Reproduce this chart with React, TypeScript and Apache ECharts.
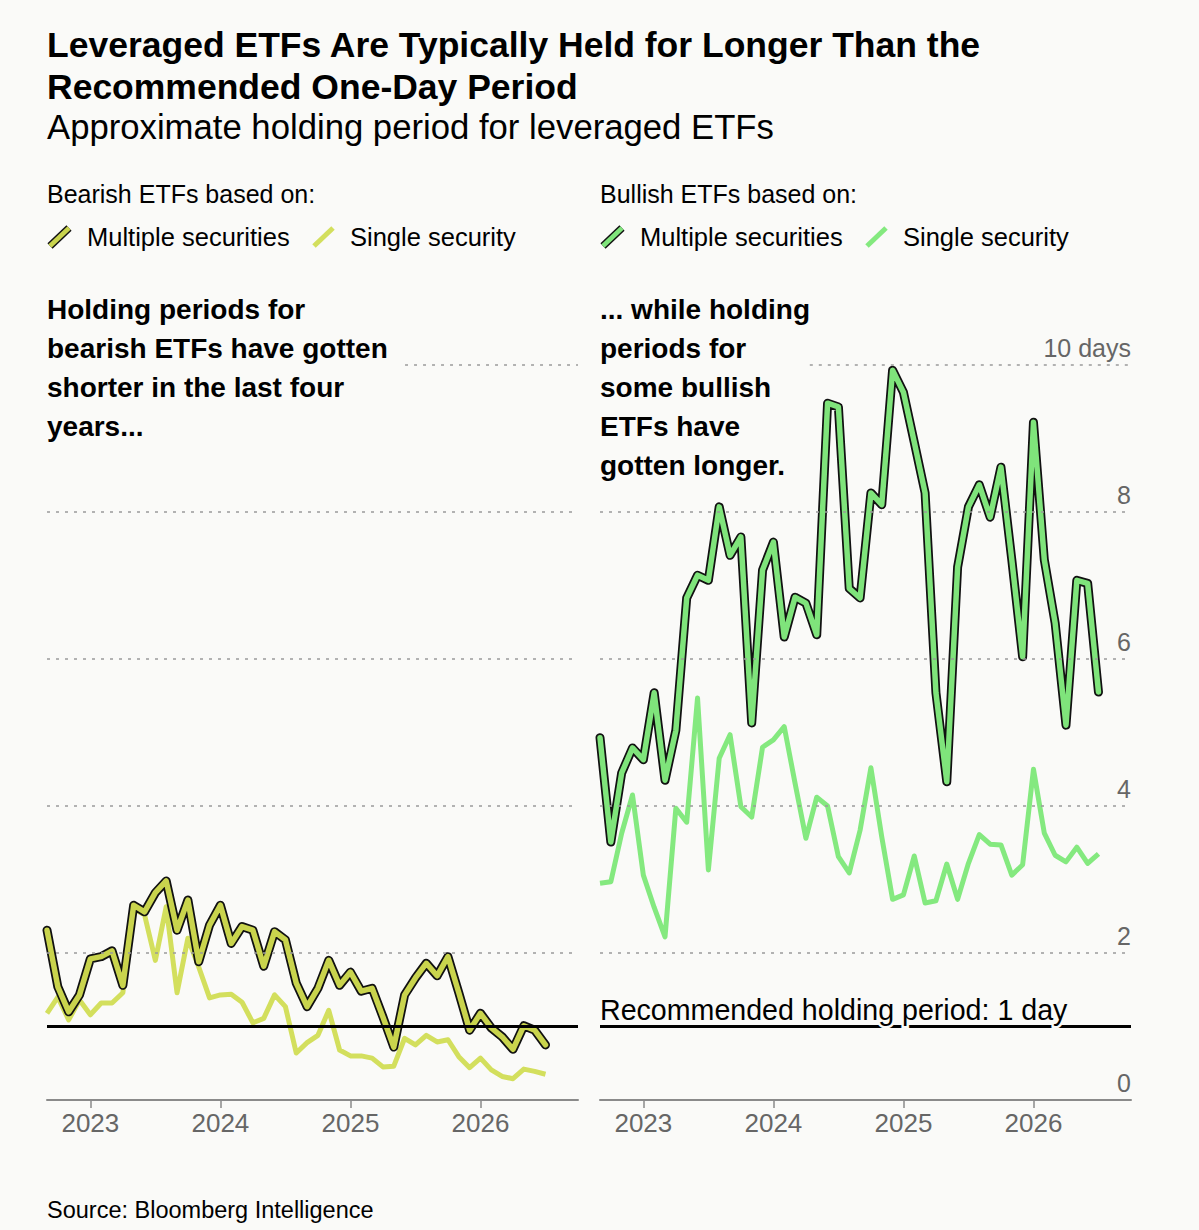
import React, { useEffect, useRef } from "react";
import * as echarts from "echarts";

const FONT = "'Liberation Sans', Arial, sans-serif";
const BG = "#fafaf8";

// Monthly observations, Sep 2022 .. Jul 2026
const START_YEAR = 2022;
const START_MONTH = 9;
const AXIS_END = 2026.75;

const bearMulti = [
  2.31, 1.54, 1.2, 1.43, 1.92, 1.95, 2.03, 1.56, 2.65, 2.56,
  2.82, 2.98, 2.31, 2.72, 1.88, 2.38, 2.65, 2.13, 2.36, 2.31,
  1.82, 2.29, 2.18, 1.59, 1.27, 1.52, 1.9, 1.56, 1.74, 1.48,
  1.52, 1.13, 0.72, 1.43, 1.66, 1.86, 1.69, 1.95, 1.46, 0.95,
  1.18, 0.98, 0.86, 0.69, 1.01, 0.95, 0.75,
];
const bearSingle = [
  1.18, 1.4, 1.09, 1.36, 1.16, 1.32, 1.32, 1.46, 2.6, 2.52,
  1.9, 2.63, 1.46, 2.2, 1.81, 1.39, 1.43, 1.44, 1.33, 1.05,
  1.11, 1.43, 1.27, 0.64, 0.78, 0.88, 1.22, 0.68, 0.6, 0.6,
  0.57, 0.45, 0.46, 0.84, 0.75, 0.88, 0.79, 0.82, 0.59, 0.44,
  0.57, 0.41, 0.32, 0.29, 0.42, 0.39, 0.35,
];
const bullMulti = [
  4.93, 3.51, 4.45, 4.79, 4.63, 5.54, 4.35, 5.03, 6.83, 7.14,
  7.07, 8.07, 7.41, 7.66, 5.13, 7.21, 7.59, 6.3, 6.84, 6.76,
  6.33, 9.48, 9.43, 6.96, 6.83, 8.26, 8.1, 9.93, 9.63, 8.95,
  8.26, 5.54, 4.33, 7.25, 8.07, 8.37, 7.93, 8.61, 7.35, 6.03,
  9.22, 7.35, 6.49, 5.1, 7.07, 7.03, 5.55,
];
const bullSingle = [
  2.95, 2.97, 3.63, 4.15, 3.06, 2.62, 2.22, 3.97, 3.78, 5.47,
  3.13, 4.65, 4.97, 3.99, 3.85, 4.8, 4.9, 5.08, 4.31, 3.56,
  4.12, 4.0, 3.31, 3.09, 3.67, 4.52, 3.58, 2.73, 2.79, 3.32,
  2.68, 2.71, 3.21, 2.73, 3.22, 3.61, 3.48, 3.47, 3.06, 3.2,
  4.5, 3.63, 3.33, 3.24, 3.44, 3.22, 3.35,
];

const yearTicks = [2023, 2024, 2025, 2026];
const gridValues = [2, 4, 6, 8];
const TOP_GRID = 10;
const RECOMMENDED = 1;

const C_BEAR_MULTI = "#c9d44d";
const C_BEAR_SINGLE = "#d3df5d";
const C_BULL_MULTI = "#7fe47b";
const C_BULL_SINGLE = "#84e97f";

const AXIS_START = START_YEAR + (START_MONTH - 1) / 12;
const toPoints = (vals: number[]) =>
  vals.map((v, i) => [START_YEAR + (START_MONTH - 1 + i) / 12, v]);

function markLines(topStart: number) {
  const dashed = { color: "#9a9a9a", width: 1.6, type: [3, 6] as any };
  return {
    silent: true,
    symbol: ["none", "none"],
    label: { show: false },
    animation: false,
    data: [
      ...gridValues.map((g) => ({ yAxis: g, lineStyle: dashed })),
      [
        { coord: [topStart, TOP_GRID], lineStyle: dashed },
        { coord: [AXIS_END, TOP_GRID] },
      ],
      { yAxis: RECOMMENDED, lineStyle: { color: "#000", width: 3, type: "solid" } },
    ],
  };
}

function panelSeries(gi: number, multi: number[], single: number[], cm: string, cs: string, topStart: number) {
  return [
    {
      type: "line",
      xAxisIndex: gi,
      yAxisIndex: gi,
      data: toPoints(single),
      showSymbol: false,
      lineStyle: { color: cs, width: 5, join: "round" },
      markLine: markLines(topStart),
      z: 2,
    },
    {
      type: "line",
      xAxisIndex: gi,
      yAxisIndex: gi,
      data: toPoints(multi),
      showSymbol: false,
      lineStyle: { color: "#111", width: 9, join: "round", cap: "round" },
      z: 3,
    },
    {
      type: "line",
      xAxisIndex: gi,
      yAxisIndex: gi,
      data: toPoints(multi),
      showSymbol: false,
      lineStyle: { color: cm, width: 5.5, join: "round", cap: "round" },
      z: 4,
    },
  ];
}

function xAxis(gi: number) {
  return {
    type: "value",
    gridIndex: gi,
    min: AXIS_START,
    max: AXIS_END,
    axisLine: { show: true, lineStyle: { color: "#8a8a8a", width: 2 } },
    axisTick: { show: true, customValues: yearTicks, length: 8, lineStyle: { color: "#8a8a8a", width: 1.5 } },
    axisLabel: {
      customValues: yearTicks,
      formatter: (v: number) => String(Math.round(v)),
      color: "#666",
      fontSize: 26,
      fontFamily: FONT,
      margin: 10,
    },
    splitLine: { show: false },
  };
}

function txt(text: string, x: number, y: number, size: number, weight = "normal", fill = "#000", extra: any = {}) {
  return {
    type: "text",
    x,
    y,
    silent: true,
    style: {
      text,
      fill,
      fontSize: size,
      fontWeight: weight,
      fontFamily: FONT,
      verticalAlign: "middle",
      ...extra,
    },
  };
}

function slash(x: number, y: number, color: string, outlined: boolean) {
  const shape = { x1: x, y1: y + 18, x2: x + 19, y2: y };
  const els: any[] = [];
  if (outlined) {
    els.push({ type: "line", shape, style: { stroke: "#111", lineWidth: 7.5 }, silent: true });
  }
  els.push({ type: "line", shape, style: { stroke: color, lineWidth: outlined ? 4.5 : 5 }, silent: true });
  return els;
}

const halo = { stroke: BG, lineWidth: 5 };

function buildOption() {
  const leftNote = ["Holding periods for", "bearish ETFs have gotten", "shorter in the last four", "years..."];
  const rightNote = ["... while holding", "periods for", "some bullish", "ETFs have", "gotten longer."];
  const graphic: any[] = [
    txt("Leveraged ETFs Are Typically Held for Longer Than the", 47, 45, 35.5, "bold"),
    txt("Recommended One-Day Period", 47, 87, 35.5, "bold"),
    txt("Approximate holding period for leveraged ETFs", 47, 127, 34.7),
    txt("Bearish ETFs based on:", 47, 194, 25),
    txt("Bullish ETFs based on:", 600, 194, 25),
    ...slash(50, 228, C_BEAR_MULTI, true),
    txt("Multiple securities", 87, 237, 25.5),
    ...slash(314, 228, C_BEAR_SINGLE, false),
    txt("Single security", 350, 237, 25.5),
    ...slash(603, 228, C_BULL_MULTI, true),
    txt("Multiple securities", 640, 237, 25.5),
    ...slash(867, 228, C_BULL_SINGLE, false),
    txt("Single security", 903, 237, 25.5),
    ...leftNote.map((t, i) => txt(t, 47, 309 + i * 39, 28, "bold", "#000", halo)),
    ...rightNote.map((t, i) => txt(t, 600, 309 + i * 39, 28, "bold", "#000", halo)),
    txt("Recommended holding period: 1 day", 600, 1010, 28.6, "normal", "#000", halo),
    txt("Source: Bloomberg Intelligence", 47, 1210, 23.5),
  ];
  graphic.forEach((g) => (g.z = 100));

  return {
    animation: false,
    backgroundColor: BG,
    grid: [
      { left: 47, top: 365, width: 531, height: 735 },
      { left: 600, top: 365, width: 531, height: 735 },
    ],
    xAxis: [xAxis(0), xAxis(1)],
    yAxis: [
      {
        type: "value",
        gridIndex: 0,
        min: 0,
        max: 10,
        interval: 2,
        axisLabel: { show: false },
        axisLine: { show: false },
        axisTick: { show: false },
        splitLine: { show: false },
      },
      {
        type: "value",
        gridIndex: 1,
        position: "right",
        min: 0,
        max: 10,
        interval: 2,
        axisLabel: {
          inside: true,
          margin: 0,
          verticalAlign: "bottom",
          align: "right",
          padding: [0, 0, 5, 0],
          color: "#666",
          fontSize: 25,
          fontFamily: FONT,
          formatter: (v: number) => (v === 10 ? "10 days" : String(v)),
        },
        axisLine: { show: false },
        axisTick: { show: false },
        splitLine: { show: false },
      },
    ],
    series: [
      ...panelSeries(0, bearMulti, bearSingle, C_BEAR_MULTI, C_BEAR_SINGLE, 2025.42),
      ...panelSeries(1, bullMulti, bullSingle, C_BULL_MULTI, C_BULL_SINGLE, 2024.28),
    ],
    graphic,
  };
}

export default function App() {
  const ref = useRef<HTMLDivElement>(null);
  useEffect(() => {
    if (!ref.current) return;
    const chart = echarts.init(ref.current, null, { renderer: "svg" });
    chart.setOption(buildOption() as any);
    return () => chart.dispose();
  }, []);
  return (
    <div
      ref={ref}
      style={{ position: "absolute", left: 0, top: 0, width: 1199, height: 1230, background: BG }}
    />
  );
}
